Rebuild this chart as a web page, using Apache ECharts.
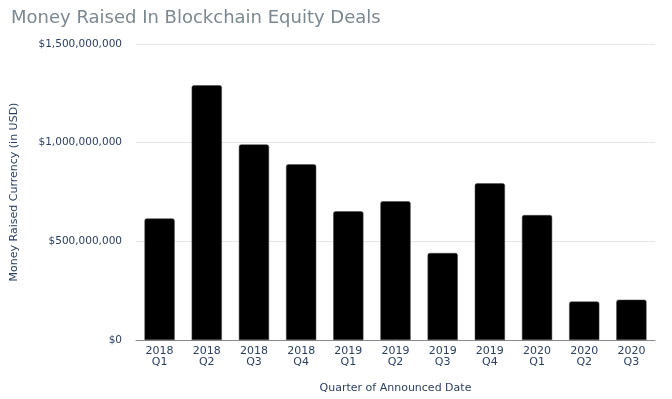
<!DOCTYPE html>
<html>
<head>
<meta charset="utf-8">
<script src="https://cdn.jsdelivr.net/npm/echarts@6/dist/echarts.min.js"></script>
<style>
  html, body { margin: 0; padding: 0; background: #fff; }
  #chart { width: 672px; height: 399px; }
</style>
</head>
<body>
<div id="chart"></div>
<script>
var quarters = [
  "2018\nQ1", "2018\nQ2", "2018\nQ3", "2018\nQ4",
  "2019\nQ1", "2019\nQ2", "2019\nQ3", "2019\nQ4",
  "2020\nQ1", "2020\nQ2", "2020\nQ3"
];
var moneyRaised = [
  616000000, 1291000000, 991000000, 890000000,
  652000000, 703000000, 441000000, 794000000,
  633000000, 195000000, 204000000
];

// 金额格式
function fmtUsd(v) {
  return "$" + v.toString().replace(/\B(?=(\d{3})+(?!\d))/g, ",");
}

var chart = echarts.init(document.getElementById("chart"));

var option = {
  animation: false,
  title: {
    text: "Money Raised In Blockchain Equity Deals",
    left: 6,
    top: 4,
    textStyle: {
      fontFamily: "DejaVu Sans",
      fontSize: 18,
      fontWeight: "normal",
      color: "#7b8891"
    }
  },
  grid: {
    left: 136,
    right: 17,
    top: 44,
    bottom: 58
  },
  xAxis: {
    type: "category",
    data: quarters,
    name: "Quarter of Announced Date",
    nameLocation: "middle",
    nameGap: 43,
    nameTextStyle: {
      fontFamily: "DejaVu Sans",
      fontSize: 11,
      color: "#2a3f5f"
    },
    axisLine: {
      show: true,
      lineStyle: { color: "#8a8a8a", width: 1 }
    },
    axisTick: { show: false },
    axisLabel: {
      interval: 0,
      margin: 6,
      lineHeight: 11,
      fontFamily: "DejaVu Sans",
      fontSize: 11,
      color: "#2a3f5f"
    }
  },
  yAxis: {
    type: "value",
    min: 0,
    max: 1500000000,
    interval: 500000000,
    name: "Money Raised Currency (in USD)",
    nameLocation: "middle",
    nameGap: 116,
    nameTextStyle: {
      fontFamily: "DejaVu Sans",
      fontSize: 11,
      color: "#2a3f5f"
    },
    axisLine: { show: false },
    axisTick: { show: false },
    splitLine: {
      lineStyle: { color: "#e6e6e6", width: 1 }
    },
    axisLabel: {
      margin: 14,
      formatter: fmtUsd,
      fontFamily: "DejaVu Sans",
      fontSize: 10.5,
      color: "#2a3f5f"
    }
  },
  series: [
    {
      name: "Money Raised",
      type: "bar",
      barWidth: "64%",
      itemStyle: {
        color: "#000000",
        borderColor: "#444",
        borderWidth: 0.5,
        borderRadius: [2, 2, 0, 0]
      },
      data: moneyRaised
    }
  ]
};
chart.setOption(option);
</script>
</body>
</html>
